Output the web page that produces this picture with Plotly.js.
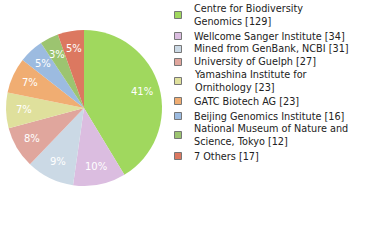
<!DOCTYPE html>
<html><head><meta charset="utf-8">
<script src="https://cdn.plot.ly/plotly-3.0.1.min.js"></script>
<style>html,body{margin:0;padding:0;background:#fff;}#chart{width:380px;height:240px;}</style>
</head><body><div id="chart"></div>
<script>
const labels = ["Centre for Biodiversity<br>Genomics", "Wellcome Sanger Institute", "Mined from GenBank, NCBI", "University of Guelph", "Yamashina Institute for<br>Ornithology", "GATC Biotech AG", "Beijing Genomics Institute", "National Museum of Nature and<br>Science, Tokyo", "7 Others"];
const values = [129, 34, 31, 27, 23, 23, 16, 12, 17];
const colors = ["#a0d85e", "#dbbde0", "#cbd9e5", "#e0a69d", "#dfe09c", "#f0ad72", "#9cbbe0", "#9cc470", "#dc7860"];
const legendY = [15, 36, 49, 62, 81, 101, 116, 135, 156];

const total = values.reduce((a, b) => a + b, 0);
const pctText = values.map(v => Math.floor(100 * v / total) + '%');

const W = 380, H = 240;
const CX = 84, CY = 108, R = 78, LR = 60;
const shapes = [], annotations = [];
labels.forEach((lab, i) => {
  const yc = legendY[i];
  shapes.push({type: 'rect', xref: 'paper', yref: 'paper',
    x0: 174.5 / W, x1: 181.5 / W, y0: 1 - (yc + 3.5) / H, y1: 1 - (yc - 3.5) / H,
    fillcolor: colors[i], line: {color: '#777', width: 1}});
  annotations.push({xref: 'paper', yref: 'paper', x: 192 / W, y: 1 - yc / H,
    xanchor: 'left', yanchor: 'middle', align: 'left', showarrow: false,
    text: lab + ' [' + values[i] + ']',
    font: {family: 'DejaVu Sans', size: 9.7, color: '#222'}});
});
// percentage labels placed on each slice's bisector (derived from values)
let cum = 0;
values.forEach((v, i) => {
  const mid = (cum + v / 2) / total * 2 * Math.PI;
  cum += v;
  const px = CX + LR * Math.sin(mid), py = CY - LR * Math.cos(mid);
  annotations.push({xref: 'paper', yref: 'paper', x: px / W, y: 1 - py / H,
    xanchor: 'center', yanchor: 'middle', showarrow: false, text: pctText[i],
    font: {family: 'DejaVu Sans', size: 10, color: '#fff'}});
});

Plotly.newPlot('chart', [{
  type: 'pie', labels: labels, values: values,
  textinfo: 'none',
  sort: false, direction: 'clockwise', rotation: 0,
  marker: {colors: colors, line: {width: 0}},
  domain: {x: [(CX - R) / W, (CX + R) / W], y: [1 - (CY + R) / H, 1 - (CY - R) / H]},
  showlegend: false, hoverinfo: 'none'
}], {
  width: W, height: H, margin: {l: 0, r: 0, t: 0, b: 0},
  paper_bgcolor: '#fff', showlegend: false,
  shapes: shapes, annotations: annotations,
  font: {family: 'DejaVu Sans'}
}, {staticPlot: true});
</script></body></html>
